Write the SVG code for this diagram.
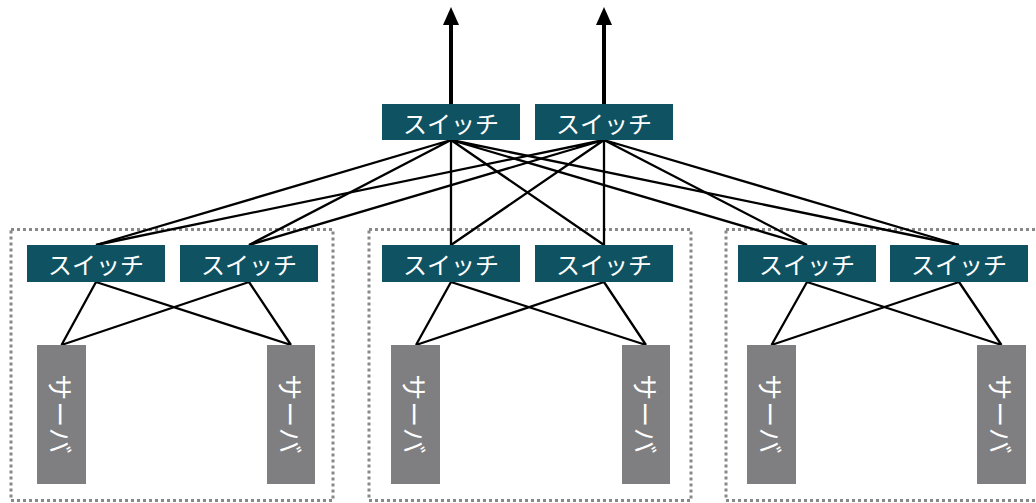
<svg xmlns="http://www.w3.org/2000/svg" width="1036" height="503" viewBox="0 0 1036 503">
<defs>
<style>
.sw{fill:#0f5363}
.sv{fill:#7f7f82}
.t{fill:#fff;font-family:"Noto Sans CJK JP","Noto Sans",sans-serif;font-size:24px;text-anchor:middle;dominant-baseline:central}
.sv + .t{font-size:26px;letter-spacing:1px}
.box{fill:none;stroke:#888;stroke-width:3;stroke-dasharray:3 3}
.ln{stroke:#000;stroke-width:2.3;fill:none}
.up{stroke:#000;stroke-width:4;fill:none}
</style>
</defs>
<g id="groups">
<rect class="box" x="11" y="229.5" width="322" height="271"/>
<rect class="box" x="369" y="229.5" width="322" height="271"/>
<rect class="box" x="726" y="229.5" width="322" height="271"/>
</g>
<g id="connectors">
<line class="up" x1="451" y1="104" x2="451" y2="25"/>
<path d="M443 25 L451 7 L459 25 Z" fill="#000"/>
<line class="up" x1="604" y1="104" x2="604" y2="25"/>
<path d="M596 25 L604 7 L612 25 Z" fill="#000"/>
<path class="ln" d="M451 140 L96 245 M451 140 L249 245 M451 140 L451 245 M451 140 L604 245 M451 140 L807 245 M451 140 L959 245"/>
<path class="ln" d="M604 140 L96 245 M604 140 L249 245 M604 140 L451 245 M604 140 L604 245 M604 140 L807 245 M604 140 L959 245"/>
<path class="ln" d="M96 282 L61.5 345 M96 282 L291 345 M249 282 L61.5 345 M249 282 L291 345"/>
<path class="ln" d="M451 282 L416 345 M451 282 L646 345 M604 282 L416 345 M604 282 L646 345"/>
<path class="ln" d="M807 282 L771.5 345 M807 282 L1001.5 345 M959 282 L771.5 345 M959 282 L1001.5 345"/>
</g>
<g id="core1"><rect class="sw" x="382" y="104" width="138" height="36"/><text class="t" x="451" y="122">スイッチ</text></g>
<g id="core2"><rect class="sw" x="535" y="104" width="138" height="36"/><text class="t" x="604" y="122">スイッチ</text></g>
<g id="sw1a"><rect class="sw" x="27" y="245" width="138" height="37"/><text class="t" x="96" y="263.5">スイッチ</text></g>
<g id="sw1b"><rect class="sw" x="180" y="245" width="138" height="37"/><text class="t" x="249" y="263.5">スイッチ</text></g>
<g id="sw2a"><rect class="sw" x="382" y="245" width="138" height="37"/><text class="t" x="451" y="263.5">スイッチ</text></g>
<g id="sw2b"><rect class="sw" x="535" y="245" width="138" height="37"/><text class="t" x="604" y="263.5">スイッチ</text></g>
<g id="sw3a"><rect class="sw" x="738" y="245" width="138" height="37"/><text class="t" x="807" y="263.5">スイッチ</text></g>
<g id="sw3b"><rect class="sw" x="890" y="245" width="138" height="37"/><text class="t" x="959" y="263.5">スイッチ</text></g>
<g id="sv1a"><rect class="sv" x="37" y="345" width="49" height="139"/><text class="t" transform="translate(61.5 414.5) rotate(90)">サーバ</text></g>
<g id="sv1b"><rect class="sv" x="267" y="345" width="48" height="139"/><text class="t" transform="translate(291 414.5) rotate(90)">サーバ</text></g>
<g id="sv2a"><rect class="sv" x="391" y="345" width="49" height="139"/><text class="t" transform="translate(415.5 414.5) rotate(90)">サーバ</text></g>
<g id="sv2b"><rect class="sv" x="622" y="345" width="48" height="139"/><text class="t" transform="translate(646 414.5) rotate(90)">サーバ</text></g>
<g id="sv3a"><rect class="sv" x="747" y="345" width="49" height="139"/><text class="t" transform="translate(771.5 414.5) rotate(90)">サーバ</text></g>
<g id="sv3b"><rect class="sv" x="977" y="345" width="49" height="139"/><text class="t" transform="translate(1001.5 414.5) rotate(90)">サーバ</text></g>
</svg>
